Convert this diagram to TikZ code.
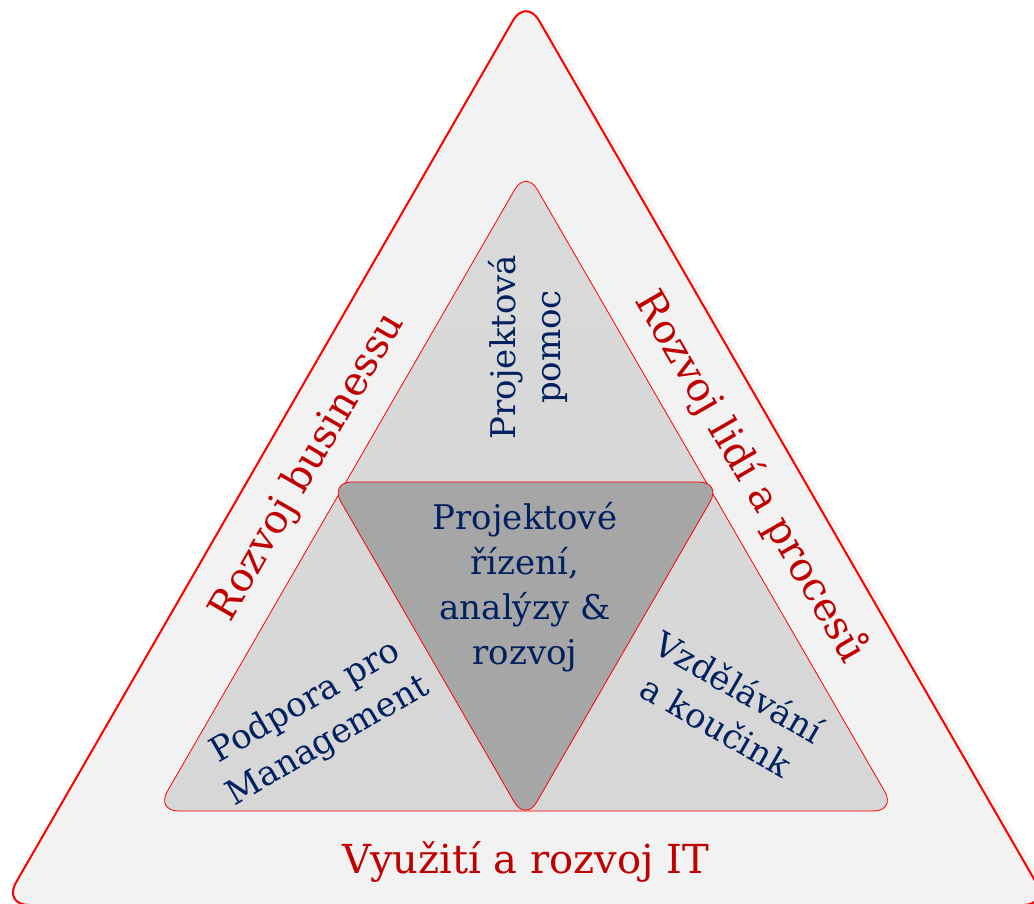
\documentclass[tikz,border=0pt]{standalone}
\usepackage{fontspec}
\setmainfont{DejaVu Serif}
\definecolor{outerfill}{HTML}{F2F2F2}
\definecolor{titlered}{HTML}{C00000}
\definecolor{navy}{HTML}{002060}
\definecolor{innerdark}{HTML}{A6A6A6}
\definecolor{innertop}{HTML}{D9D9D9}
\definecolor{innermid}{HTML}{C4C4C4}
\definecolor{innerbot}{HTML}{D7D7D7}
\begin{document}
\begin{tikzpicture}[x=1pt,y=-1pt,
  redtitle/.style={text=titlered, font=\fontsize{40}{48}\selectfont, inner sep=0pt},
  bluetext/.style={text=navy, font=\fontsize{34}{45}\selectfont, align=center, inner sep=0pt},
  outline/.style={draw=red, line width=0.8pt, rounded corners=22.5}]
\useasboundingbox (0,0) rectangle (1034,904);
\clip (0,0) rectangle (1034,904);
% shadow of the outer triangle
\fill[black!4, rounded corners=26] (538,8) -- (1061,914) -- (15,914) -- cycle;
% outer triangle
\draw[red, line width=2pt, fill=outerfill, rounded corners=26] (526,-2) -- (1049,905) -- (3,905) -- cycle;
% inner triangle
\path[outline, top color=innertop, middle color=innermid, bottom color=innerbot] (526,170) -- (896,811) -- (156,811) -- cycle;
% inverted centre triangle
\path[outline, fill=innerdark] (329.5,482) -- (721.5,482) -- (525.5,821.5) -- cycle;
% texts
\node[redtitle, anchor=base] (it) at (526,873) {Využití a rozvoj IT};
\node[redtitle, rotate=60] (business) at (308,467) {Rozvoj businessu};
\node[redtitle, rotate=-60] (people) at (751,477) {Rozvoj lidí a procesů};
\node[bluetext] (centre) at (525,587) {Projektové\\řízení,\\analýzy \&\\rozvoj};
\node[bluetext, rotate=90] (help) at (528,347) {Projektová\\pomoc};
\node[bluetext, rotate=30] (mgmt) at (317,722) {Podpora pro\\Management};
\node[bluetext, rotate=-30] (edu) at (728,706) {Vzdělávání\\a koučink};
\end{tikzpicture}
\end{document}
